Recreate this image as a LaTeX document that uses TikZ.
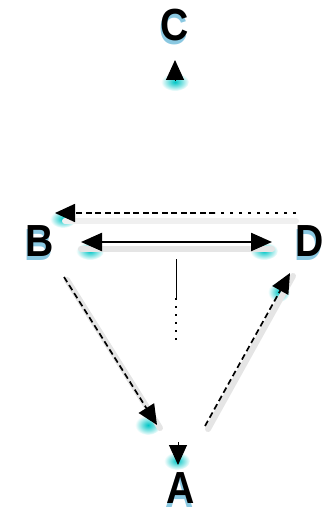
\documentclass[tikz,border=0pt]{standalone}
\usepackage{fontspec}
\usepackage{graphicx}
\setmainfont{Liberation Sans}
\usetikzlibrary{arrows.meta}
\tikzset{bigtip/.tip={Triangle[length=21pt,width=18pt]}}
\newcommand{\narrowletter}[1]{\scalebox{0.87}[1]{#1}}
\begin{document}
\begin{tikzpicture}[x=1pt,y=-1pt,
  lbl/.style={font=\fontsize{45}{45}\selectfont\bfseries, inner sep=0pt},
  lblglow/.style={lbl, text=cyan!60!teal, opacity=0.55},
  glow/.style={inner color=cyan!55!teal, outer color=white},
  head/.style={-{Triangle[length=20pt,width=18pt]}},
  dash line/.style={line width=1.7pt, dash pattern=on 6pt off 3.5pt},
  dot line/.style={line width=1.4pt, dash pattern=on 3pt off 6pt},
  trail/.style={line width=6pt, draw=gray!20, line cap=round}]
\useasboundingbox (0,0) rectangle (335,513);

% cyan glows under arrow heads
\shade[glow] (175,82) ellipse (14 and 9);
\shade[glow] (177,461) ellipse (13 and 9);
\shade[glow] (63,219) ellipse (13 and 9);
\shade[glow] (90,251) ellipse (14 and 9);
\shade[glow] (264,251) ellipse (14 and 9);
\shade[glow] (148,425) ellipse (13 and 10);
\shade[glow] (279,292) ellipse (11 and 10);

% cyan echoes below the letters
\node[lblglow] at (174,29) {\narrowletter{C}};
\node[lblglow] at (39,245) {\narrowletter{B}};
\node[lblglow] at (309,245) {\narrowletter{D}};
\node[lblglow] at (180,492) {\narrowletter{A}};

% letters
\node[lbl] (C) at (175,25) {\narrowletter{C}};
\node[lbl] (B) at (40,241) {\narrowletter{B}};
\node[lbl] (D) at (310,241) {\narrowletter{D}};
\node[lbl] (A) at (181,488) {\narrowletter{A}};

% end points of the connectors
\coordinate (cbase) at (175,81);
\coordinate (ctip)  at (175,60);
\coordinate (abase) at (178,442);
\coordinate (atip)  at (178,465);
\coordinate (dbstart) at (296,213);
\coordinate (dbmid)   at (215,213);
\coordinate (dbend)   at (55,213);
\coordinate (bdl) at (81,242);
\coordinate (bdr) at (272,242);
\coordinate (stemtop) at (176,259);
\coordinate (stemmid) at (176,298);
\coordinate (stembot) at (176,343);
\coordinate (bastart) at (64,277);
\coordinate (baend)   at (157,425);
\coordinate (adstart) at (205,426);
\coordinate (adend)   at (290,273);

% soft trails under the lines
\draw[trail] ([shift={(0,7)}]bdl) -- ([shift={(0,7)}]bdr);
\draw[trail] ([shift={(3,3)}]bastart) -- ([shift={(3,3)}]baend);
\draw[trail] ([shift={(3,3)}]adstart) -- ([shift={(3,3)}]adend);
\draw[trail, draw=gray!12] ([shift={(10,8)}]dbend) -- ([shift={(0,8)}]dbstart);

% lone arrow heads at C and A
\draw[head, line width=1pt] (cbase) -- (ctip);
\draw[head, line width=1pt] (abase) -- (atip);

% dashed arrow D -> B, fading into dots
\draw[dot line] (dbstart) -- (dbmid);
\draw[dash line, head] (dbmid) -- (dbend);

% double arrow between B and D
\draw[line width=2.4pt, bigtip-bigtip] (bdl) -- (bdr);

% stem under the double arrow
\draw[line width=1pt] (stemtop) -- (stemmid);
\draw[line width=1.2pt, dash pattern=on 2pt off 6pt] (stemmid) -- (stembot);

% dashed arrows B -> A and A -> D
\draw[dash line, head] (bastart) -- (baend);
\draw[dash line, head] (adstart) -- (adend);
\end{tikzpicture}
\end{document}
